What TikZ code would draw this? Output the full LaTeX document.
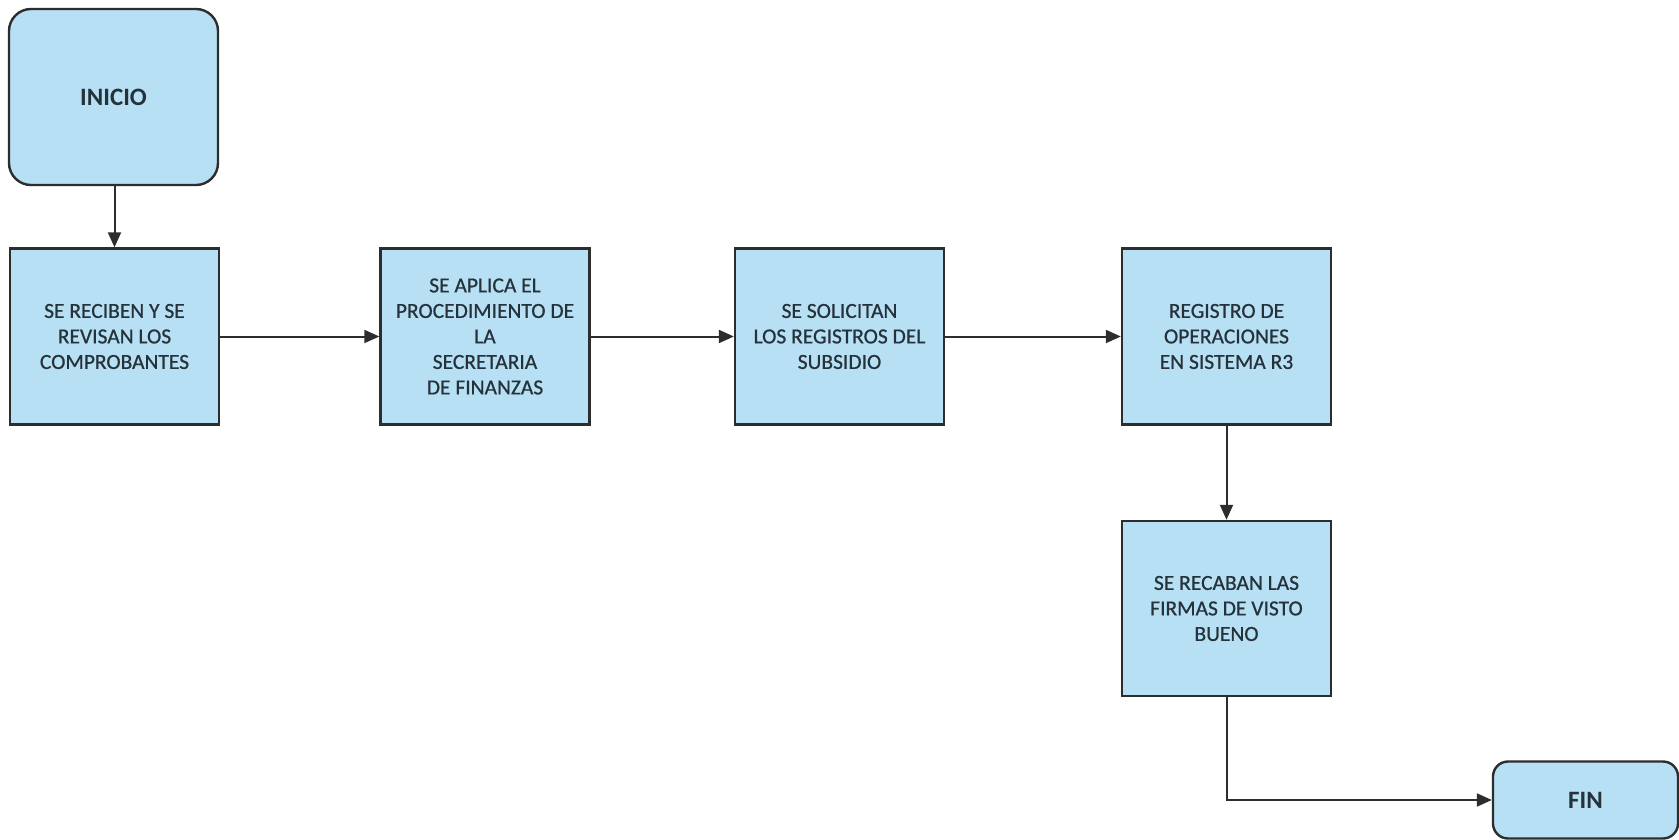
\documentclass[tikz,border=0pt]{standalone}
\usepackage{fontspec}
\setmainfont{Carlito}
\newfontfamily\boxfont{Carlito}[FakeBold=0.7]
\usetikzlibrary{arrows.meta}
\definecolor{boxfill}{RGB}{183,224,245}
\definecolor{boxline}{RGB}{45,45,45}
\definecolor{txt}{RGB}{38,50,58}
\tikzset{
  stepbox/.style={draw=boxline, line width=2.4pt, fill=boxfill, text=txt,
    minimum width=209pt, minimum height=176pt, align=center, inner sep=2pt,
    font=\boxfont\fontsize{21.5}{25.5}\selectfont},
  termbox/.style={draw=boxline, line width=2.4pt, fill=boxfill, text=txt,
    rounded corners=22pt, align=center,
    font=\fontsize{25}{30}\selectfont\bfseries},
  flow/.style={draw=boxline, line width=2pt,
    -{Triangle[length=15pt,width=13pt]}}
}
\begin{document}
\begin{tikzpicture}[x=1pt,y=-1pt]
\useasboundingbox (0,0) rectangle (1679,840);
\fill[white] (0,0) rectangle (1679,840);
\node[termbox, minimum width=209pt, minimum height=176pt] (ini) at (113.5,97) {INICIO};
\node[stepbox] (b1) at (114.5,336.5) {SE RECIBEN Y SE\\REVISAN LOS\\COMPROBANTES};
\node[stepbox] (b2) at (485,336.5) {SE APLICA EL\\PROCEDIMIENTO DE\\LA\\SECRETARIA\\DE FINANZAS};
\node[stepbox] (b3) at (839.5,336.5) {SE SOLICITAN\\LOS REGISTROS DEL\\SUBSIDIO};
\node[stepbox] (b4) at (1226.5,336.5) {REGISTRO DE\\OPERACIONES\\EN SISTEMA R3};
\node[stepbox, minimum height=175pt] (b5) at (1226.5,608.5) {SE RECABAN LAS\\FIRMAS DE VISTO\\BUENO};
\node[termbox, rounded corners=15pt, minimum width=185pt, minimum height=77pt] (fin) at (1585.5,800) {FIN};
\draw[flow] (ini.south -| b1.north) -- (b1.north);
\draw[flow] (b1.east) -- (b2.west);
\draw[flow] (b2.east) -- (b3.west);
\draw[flow] (b3.east) -- (b4.west);
\draw[flow] (b4.south) -- (b5.north);
\draw[flow] (b5.south) |- (fin.west);
\end{tikzpicture}
\end{document}
